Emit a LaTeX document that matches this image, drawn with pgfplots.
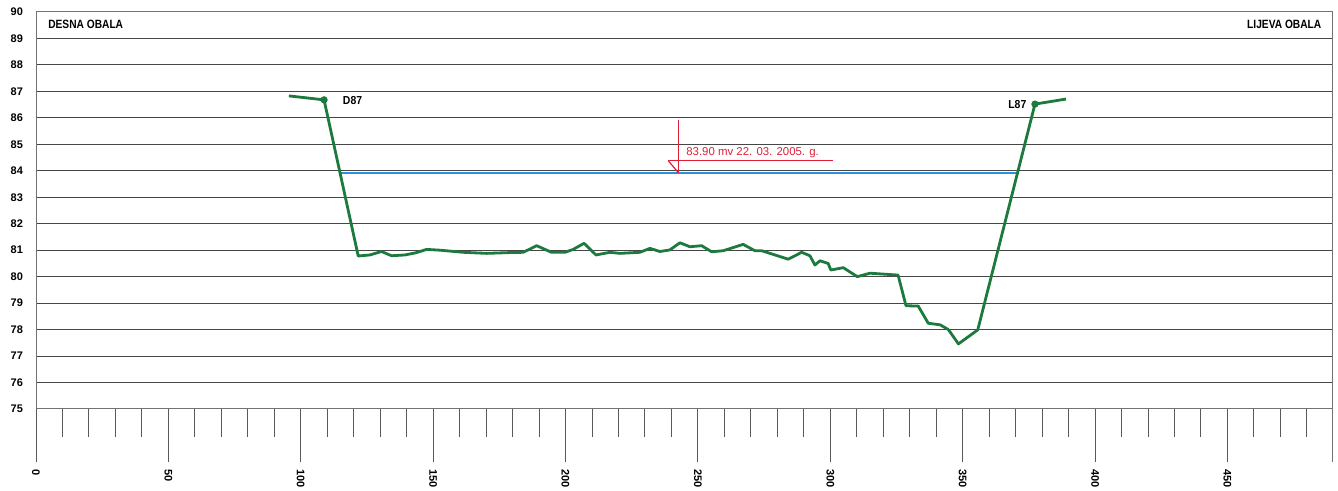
\documentclass[border=0pt]{standalone}
\usepackage{fontspec}
\setmainfont{Liberation Sans}
\usepackage{pgfplots}
\pgfplotsset{compat=1.18}
\definecolor{prof}{RGB}{28,122,62}
\definecolor{water}{RGB}{45,145,215}
\definecolor{anno}{RGB}{225,30,55}
\definecolor{gridc}{RGB}{70,70,70}
\newcommand{\sm}{\fontsize{5.5}{6}\selectfont}
\begin{document}
\begin{tikzpicture}
\useasboundingbox (-18pt,-41pt) rectangle (651pt,204.5pt);
\begin{axis}[
 at={(0,0)}, anchor=south west,
 scale only axis, width=648pt, height=198.5pt,
 xmin=0, xmax=489.5, ymin=75, ymax=90,
 axis line style={draw=black!55, line width=0.5pt},
 ytick={75,...,90},
 ymajorgrids, grid style={gridc, line width=0.5pt},
 ytick style={draw=none},
 ytick align=inside,
 xtick={0,50,...,450},
 minor xtick={10,20,...,480},
 xtick align=outside,
 major tick length=26.5pt,
 minor tick length=14pt,
 xtick pos=bottom, ytick pos=left,
 xtick style={draw=black!65, line width=0.5pt},
 extra x ticks={489.5}, extra x tick labels={},
 extra x tick style={grid=none, xtick style={draw=black!55, line width=0.5pt}},
 /pgf/number format/assume math mode=true,
 xticklabel style={rotate=-90, anchor=west, font=\sm\bfseries, xshift=0pt},
 yticklabel style={anchor=east, font=\sm\bfseries, xshift=-3pt},
]
\addplot[water, line width=1.1pt] coordinates {(114.9,83.92) (370.9,83.92)};
\addplot[prof, line width=1.4pt, line join=round] coordinates {
(95.5,86.83) (108.8,86.68) (121.7,80.78) (126.1,80.82) (130.5,80.95) (134.3,80.79)
(139.4,80.82) (143.8,80.91) (147.5,81.03) (152.6,81.00) (161.4,80.92) (170.2,80.88)
(179.0,80.91) (184.0,80.92) (189.1,81.17) (194.7,80.92) (199.8,80.92) (202.9,81.03)
(207.0,81.26) (211.5,80.82) (216.8,80.92) (220.5,80.88) (228.1,80.92) (231.9,81.07)
(235.6,80.95) (239.4,81.01) (243.2,81.28) (247.0,81.13) (251.4,81.17) (255.2,80.94)
(259.6,80.98) (267.1,81.22) (271.5,80.98) (274.1,80.98) (284.1,80.66) (289.2,80.92)
(292.3,80.79) (294.2,80.44) (296.1,80.60) (299.2,80.50) (300.2,80.25) (304.9,80.34)
(310.2,80.00) (315.0,80.13) (325.6,80.06) (328.6,78.90) (333.2,78.89) (337.0,78.24)
(341.5,78.18) (344.6,78.00) (348.4,77.46) (355.7,77.99) (377.3,86.52) (389.0,86.71)};
\addplot[prof, only marks, mark=*, mark size=1.6pt] coordinates {(108.8,86.68) (377.3,86.52)};
\addplot[anno, line width=0.6pt] coordinates {(242.7,85.92) (242.7,83.92)};
\addplot[anno, line width=0.6pt] coordinates {(238.8,84.38) (301.1,84.38)};
\addplot[anno, line width=0.6pt] coordinates {(238.8,84.38) (242.7,83.92)};
\node[anchor=west, text=anno, font=\fontsize{5.7}{6}\selectfont, inner sep=0pt] at (axis cs:245.5,84.68) {83.90 mv 22. 03. 2005. g.};
\node[anchor=west, font=\fontsize{5.8}{6}\selectfont\bfseries, inner sep=0pt] at (axis cs:115.8,86.65) {\scalebox{0.9}[1]{D87}};
\node[anchor=east, font=\fontsize{5.8}{6}\selectfont\bfseries, inner sep=0pt] at (axis cs:374.2,86.52) {\scalebox{0.9}[1]{L87}};
\node[anchor=west, font=\fontsize{6}{6}\selectfont\bfseries, inner sep=0pt] at (axis cs:4.5,89.55) {\scalebox{0.85}[1]{DESNA OBALA}};
\node[anchor=east, font=\fontsize{6}{6}\selectfont\bfseries, inner sep=0pt] at (axis cs:485.6,89.55) {\scalebox{0.85}[1]{LIJEVA OBALA}};
\end{axis}
\end{tikzpicture}
\end{document}
